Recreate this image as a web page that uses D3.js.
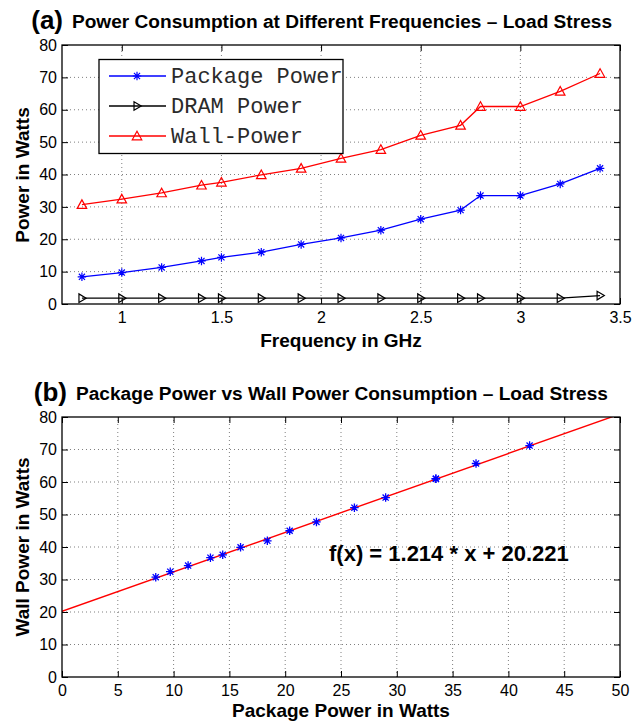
<!DOCTYPE html>
<html><head><meta charset="utf-8">
<script src="https://cdn.jsdelivr.net/npm/d3@7"></script>
<style>body{margin:0;background:#fff}</style>
</head><body>
<svg id="c" width="644" height="722"></svg>
<script>
// ---- data ----
const frequencies   = [0.8, 1.0, 1.2, 1.4, 1.5, 1.7, 1.9, 2.1, 2.3, 2.5, 2.7, 2.8, 3.0, 3.2, 3.4];
const packagePower  = [8.4, 9.7, 11.3, 13.3, 14.4, 16.0, 18.4, 20.4, 22.8, 26.2, 29.0, 33.5, 33.5, 37.1, 41.9];
const dramPower     = [1.8, 1.8, 1.8, 1.8, 1.8, 1.8, 1.8, 1.8, 1.8, 1.8, 1.8, 1.8, 1.8, 1.8, 2.6];
const wallPower     = [30.7, 32.4, 34.3, 36.7, 37.6, 39.9, 41.9, 45.0, 47.7, 52.1, 55.2, 61.0, 61.0, 65.7, 71.2];
const seriesNames   = ["Package Power", "DRAM Power", "Wall-Power"];
const fitSlope = 1.214, fitIntercept = 20.221;
const fitRange = [0, 50];
const freqTicks  = [1, 1.5, 2, 2.5, 3, 3.5];
const freqGrid   = [1, 1.5, 2, 2.5, 3];
const powerTicks = [0, 10, 20, 30, 40, 50, 60, 70, 80];
const pkgTicks   = [0, 5, 10, 15, 20, 25, 30, 35, 40, 45, 50];
const titleA = "Power Consumption at Different Frequencies \u2013 Load Stress";
const titleB = "Package Power vs Wall Power Consumption \u2013 Load Stress";

const FONT = "'Liberation Sans', Arial, Helvetica, sans-serif";
const MONO = "'Liberation Mono', 'Courier New', Courier, monospace";
const svg = d3.select("#c");

// ---- marker paths ----
function asterisk(s) {
  const r = s / 2, d = r * 0.72;
  return `M${-r},0L${r},0M0,${-r}L0,${r}M${-d},${-d}L${d},${d}M${-d},${d}L${d},${-d}`;
}
function triUp(s) { const r = s / 2; return `M0,${-r}L${r},${r * 0.8}L${-r},${r * 0.8}Z`; }
function triRight(s) { const r = s / 2; return `M${r},0L${-r * 0.7},${-r}L${-r * 0.7},${r}Z`; }

function frame(g, x, y, xt, xg, yt, yg) {
  const [x0, x1] = x.range(), [y0, y1] = y.range();
  g.append("g").selectAll("line").data(xg).join("line")
    .attr("x1", d => x(d)).attr("x2", d => x(d)).attr("y1", y0).attr("y2", y1)
    .attr("stroke", "#000").attr("stroke-opacity", 0.5).attr("stroke-width", 1).attr("stroke-dasharray", "1,3");
  g.append("g").selectAll("line").data(yg).join("line")
    .attr("y1", d => y(d)).attr("y2", d => y(d)).attr("x1", x0).attr("x2", x1)
    .attr("stroke", "#000").attr("stroke-opacity", 0.5).attr("stroke-width", 1).attr("stroke-dasharray", "1,3");
  const style = a => { a.select(".domain").remove(); a.selectAll("line").attr("stroke", "#000"); a.selectAll("text").attr("font-family", FONT).attr("font-size", 16).attr("fill", "#000"); };
  g.append("g").attr("transform", `translate(0,${y0})`)
    .call(d3.axisBottom(x).tickValues(xt).tickSizeInner(-6).tickSizeOuter(0).tickPadding(8).tickFormat(d3.format("~g"))).call(style);
  g.append("g").attr("transform", `translate(0,${y1})`)
    .call(d3.axisTop(x).tickValues(xt).tickSizeInner(-6).tickSizeOuter(0).tickFormat("")).call(style);
  g.append("g").attr("transform", `translate(${x0},0)`)
    .call(d3.axisLeft(y).tickValues(yt).tickSizeInner(-6).tickSizeOuter(0).tickPadding(5)).call(style);
  g.append("g").attr("transform", `translate(${x1},0)`)
    .call(d3.axisRight(y).tickValues(yt).tickSizeInner(-6).tickSizeOuter(0).tickFormat("")).call(style);
}
function border(g, x, y) {
  const [x0, x1] = x.range(), [y0, y1] = y.range();
  g.append("rect").attr("x", x0).attr("y", y1).attr("width", x1 - x0).attr("height", y0 - y1)
    .attr("fill", "none").attr("stroke", "#000").attr("stroke-width", 1.3);
}

// ================= Panel (a) =================
const xA = d3.scaleLinear().domain([0.7, 3.5]).range([62, 620]);
const yA = d3.scaleLinear().domain([0, 80]).range([304, 45]);
const gA = svg.append("g");
frame(gA, xA, yA, freqTicks, freqGrid, powerTicks, powerTicks.slice(1, -1));

const seriesA = [
  { vals: packagePower, color: "#0000ff", marker: asterisk, size: 8.5 },
  { vals: dramPower, color: "#000000", marker: triRight, size: 8.5 },
  { vals: wallPower, color: "#ff0000", marker: triUp, size: 9.5 }
];
const lineA = d3.line().x(d => xA(d[0])).y(d => yA(d[1]));
seriesA.forEach(s => {
  const pts = frequencies.map((f, i) => [f, s.vals[i]]);
  gA.append("path").datum(pts).attr("d", lineA).attr("fill", "none").attr("stroke", s.color).attr("stroke-width", 1.3);
  gA.append("g").selectAll("path").data(pts).join("path")
    .attr("transform", d => `translate(${xA(d[0])},${yA(d[1])})`)
    .attr("d", s.marker(s.size)).attr("fill", "none").attr("stroke", s.color).attr("stroke-width", 1.2);
});
border(gA, xA, yA);

// legend
const leg = gA.append("g");
leg.append("rect").attr("x", 99).attr("y", 59.5).attr("width", 244).attr("height", 94).attr("fill", "#fff");
seriesA.forEach((s, i) => {
  const cy = 76 + i * 30;
  leg.append("line").attr("x1", 109).attr("x2", 166).attr("y1", cy).attr("y2", cy).attr("stroke", s.color).attr("stroke-width", 1.3);
  leg.append("path").attr("transform", `translate(137,${cy})`).attr("d", s.marker(s.size)).attr("fill", "none").attr("stroke", s.color).attr("stroke-width", 1.2);
  leg.append("text").attr("x", 171).attr("y", cy + 7).attr("font-family", MONO).attr("font-size", 22).attr("fill", "#2a2a2a").text(seriesNames[i]);
});
leg.append("rect").attr("x", 99).attr("y", 59.5).attr("width", 244).attr("height", 94).attr("fill", "none").attr("stroke", "#000").attr("stroke-width", 1.3);

// titles & labels (a)
svg.append("text").attr("x", 63).attr("y", 29).attr("text-anchor", "end").attr("font-family", FONT).attr("font-weight", "bold").attr("font-size", 26).text("(a)");
svg.append("text").attr("x", 342).attr("y", 28).attr("text-anchor", "middle").attr("font-family", FONT).attr("font-weight", "bold").attr("font-size", 19.1).text(titleA);
svg.append("text").attr("x", 341).attr("y", 347).attr("text-anchor", "middle").attr("font-family", FONT).attr("font-weight", "bold").attr("font-size", 19).text("Frequency in GHz");
svg.append("text").attr("transform", "translate(29,175) rotate(-90)").attr("text-anchor", "middle").attr("font-family", FONT).attr("font-weight", "bold").attr("font-size", 19).text("Power in Watts");

// ================= Panel (b) =================
const xB = d3.scaleLinear().domain([0, 50]).range([62, 620]);
const yB = d3.scaleLinear().domain([0, 80]).range([677, 417]);
const gB = svg.append("g");
frame(gB, xB, yB, pkgTicks, pkgTicks.slice(1, -1), powerTicks, powerTicks.slice(1, -1));

svg.append("clipPath").attr("id", "clipB").append("rect")
  .attr("x", 62).attr("y", 417).attr("width", 558).attr("height", 260);
const fitPts = fitRange.map(v => [v, fitSlope * v + fitIntercept]);
gB.append("path").datum(fitPts).attr("clip-path", "url(#clipB)")
  .attr("d", d3.line().x(d => xB(d[0])).y(d => yB(d[1])))
  .attr("fill", "none").attr("stroke", "#ff0000").attr("stroke-width", 1.4);
gB.append("g").selectAll("path").data(packagePower.map((p, i) => [p, wallPower[i]])).join("path")
  .attr("transform", d => `translate(${xB(d[0])},${yB(d[1])})`)
  .attr("d", asterisk(8.5)).attr("fill", "none").attr("stroke", "#0000ff").attr("stroke-width", 1.3);
border(gB, xB, yB);

svg.append("text").attr("x", 329).attr("y", 561).attr("font-family", FONT).attr("font-weight", "bold").attr("font-size", 22)
  .text(`f(x) = ${fitSlope} * x + ${fitIntercept}`);

svg.append("text").attr("x", 67).attr("y", 401).attr("text-anchor", "end").attr("font-family", FONT).attr("font-weight", "bold").attr("font-size", 26).text("(b)");
svg.append("text").attr("x", 342).attr("y", 400).attr("text-anchor", "middle").attr("font-family", FONT).attr("font-weight", "bold").attr("font-size", 19.1).text(titleB);
svg.append("text").attr("x", 341).attr("y", 717).attr("text-anchor", "middle").attr("font-family", FONT).attr("font-weight", "bold").attr("font-size", 19).text("Package Power in Watts");
svg.append("text").attr("transform", "translate(29,547) rotate(-90)").attr("text-anchor", "middle").attr("font-family", FONT).attr("font-weight", "bold").attr("font-size", 19).text("Wall Power in Watts");
</script>
</body></html>
